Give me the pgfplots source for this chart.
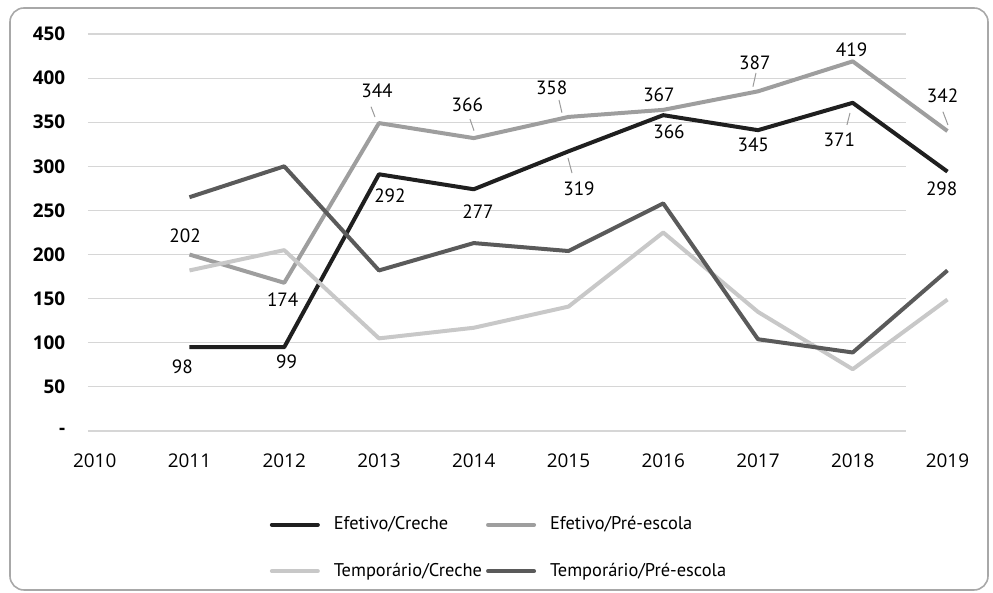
\documentclass[border=0pt]{standalone}
\usepackage{fontspec}
\setmainfont{PT Sans}
\newfontfamily\numfont{Open Sans}
\usepackage{pgfplots}
\pgfplotsset{compat=1.18}
\definecolor{ec}{HTML}{1F1F1F}
\definecolor{ep}{HTML}{9E9E9E}
\definecolor{tc}{HTML}{C8C8C8}
\definecolor{tp}{HTML}{5A5A5A}
\definecolor{gridc}{HTML}{D6D6D6}
\definecolor{framec}{HTML}{A8A8A8}
\definecolor{leadc}{HTML}{9A9A9A}
\newcommand{\lfont}{\fontsize{9.2}{11}\selectfont}
\newcommand{\tfont}{\numfont\fontsize{9.45}{11}\selectfont}
\newcommand{\dfont}{\fontsize{9.6}{11}\selectfont}
\begin{document}
\begin{tikzpicture}
\useasboundingbox (-44pt,-81pt) rectangle (452.5pt,215.5pt);
\draw[framec, line width=0.8pt, rounded corners=7pt] (-39pt,-79.5pt) rectangle (450pt,211.5pt);
\begin{axis}[
  scale only axis, width=409pt, height=198.5pt,
  xmin=2009.929, xmax=2018.562, ymin=0, ymax=450,
  clip=false, axis line style={draw=none},
  major tick length=0pt,
  xtick={2010,2011,2012,2013,2014,2015,2016,2017,2018},
  xticklabels={2010,2011,2012,2013,2014,2015,2016,2017,2018},
  ytick={0,50,100,150,200,250,300,350,400,450},
  yticklabels={-,50,100,150,200,250,300,350,400,450},
  ymajorgrids, grid style={gridc, line width=0.55pt},
  xticklabel style={font=\tfont, yshift=-7.85pt},
  yticklabel style={font=\tfont\bfseries, xshift=-7.85pt},
  legend columns=2,
  legend cell align=left,
  legend style={at={(axis description cs:0.5037,-0.2947)}, anchor=center, draw=none, fill=none,
    font=\lfont, row sep=11pt,
    /tikz/every odd column/.append style={column sep=5pt}},
  legend image code/.code={\draw[#1, line cap=round] (0pt,0pt) -- (23pt,0pt);},
  every axis plot/.append style={line width=2pt, line join=round},
]
\addplot[ec, mark=none] coordinates {(2011,95) (2012,95) (2013,291) (2014,274) (2015,317) (2016,358) (2017,341) (2018,372) (2019,294)};
\addlegendentry{Efetivo/Creche}
\addplot[ep, mark=none] coordinates {(2011,200) (2012,168) (2013,349) (2014,332) (2015,356) (2016,364) (2017,385) (2018,419) (2019,340)};
\addlegendentry{Efetivo/Pré-escola}
\addplot[tc, mark=none] coordinates {(2011,182) (2012,205) (2013,105) (2014,117) (2015,141) (2016,225) (2017,135) (2018,70) (2019,149)};
\addlegendentry{Temporário/Creche}
\addplot[tp, mark=none] coordinates {(2011,265) (2012,300) (2013,182) (2014,213) (2015,204) (2016,258) (2017,104) (2018,89) (2019,182)};
\addlegendentry{Temporário/Pré-escola}
% leader lines
\addplot[leadc, line width=0.5pt, forget plot] coordinates {(2012.916,367.6) (2012.958,355.9)};
\addplot[leadc, line width=0.5pt, forget plot] coordinates {(2013.960,353.7) (2014.003,340.4)};
\addplot[leadc, line width=0.5pt, forget plot] coordinates {(2014.900,375.2) (2014.931,360.8)};
\addplot[leadc, line width=0.5pt, forget plot] coordinates {(2014.995,309.5) (2015.037,292.4)};
\addplot[leadc, line width=0.5pt, forget plot] coordinates {(2016.979,405.8) (2016.947,390.3)};
\addplot[leadc, line width=0.5pt, forget plot] coordinates {(2017.971,360.5) (2017.939,346.9)};
\addplot[leadc, line width=0.5pt, forget plot] coordinates {(2018.952,361.9) (2019.005,346.9)};
% data labels
\addplot[draw=none, mark=none, forget plot, nodes near coords, point meta=explicit symbolic,
  every node near coord/.style={anchor=center, inner sep=0pt, font=\dfont, text=black}]
  table[meta=lab] {
x y lab
2010.953 221.0 202
2011.984 149.3 174
2012.979 385.4 344
2013.932 369.5 366
2014.823 389.6 358
2015.955 380.9 367
2016.968 417.5 387
2017.989 431.9 419
2018.949 379.7 342
2010.924 72.9 98
2012.026 78.6 99
2013.116 266.4 292
2014.045 248.6 277
2015.111 275.1 319
2016.061 339.3 366
2016.950 324.2 345
2017.858 330.6 371
2018.939 275.1 298
};
\node[anchor=north, font=\tfont, yshift=-7.85pt] at (axis cs:2019,0) {2019};
\end{axis}
\end{tikzpicture}
\end{document}
